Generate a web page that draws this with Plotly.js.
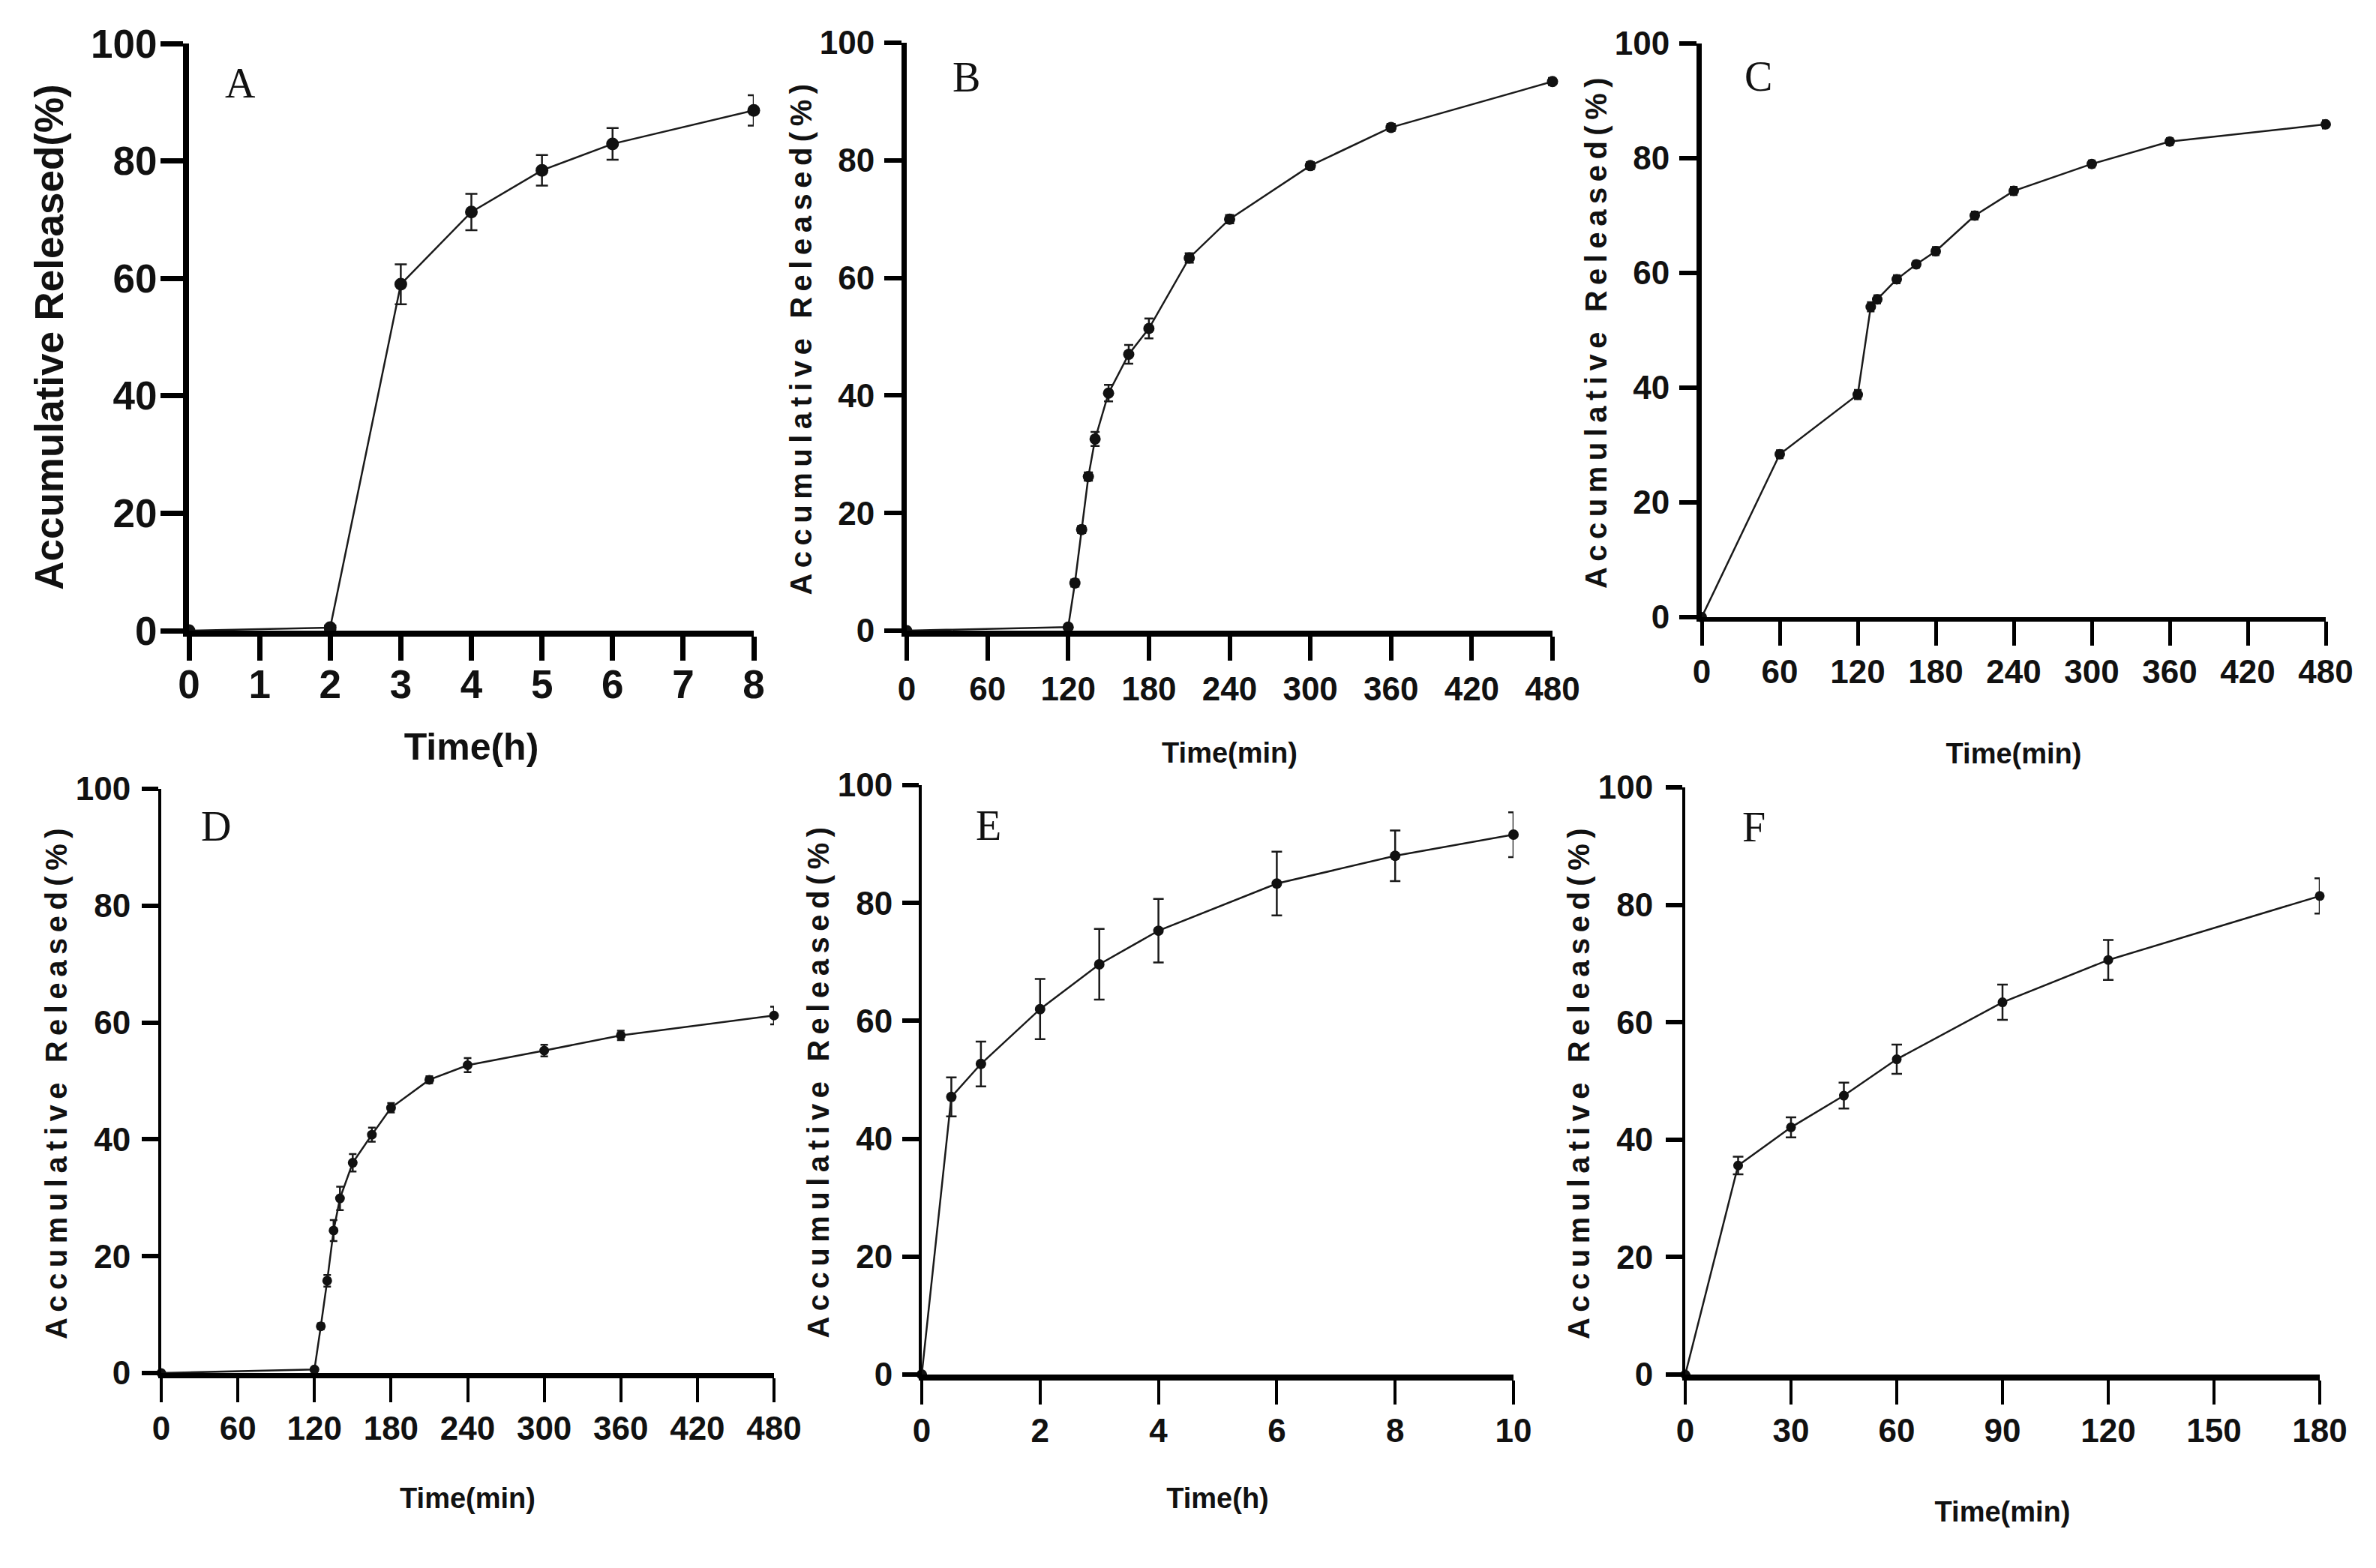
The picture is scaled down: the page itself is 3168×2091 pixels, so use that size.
<!DOCTYPE html>
<html>
<head>
<meta charset="utf-8">
<script src="https://cdn.plot.ly/plotly-3.0.1.min.js"></script>
<style>
  html, body { margin: 0; padding: 0; background: #fff; }
  #chart { width: 3168px; height: 2091px; }
  /* panels B-F use a letter-spaced y title */
  .g-y2title text, .g-y3title text, .g-y4title text,
  .g-y5title text, .g-y6title text { letter-spacing: 7.5px; }
</style>
</head>
<body>
<div id="chart"></div>
<script>
// ── Release data (mean, SD) ──
const timeA = [0, 2, 3, 4, 5, 6, 8];
const releaseA = [0, 0.5, 59.0, 71.3, 78.4, 82.9, 88.6];
const sdA = [0, 0.4, 3.4, 3.1, 2.6, 2.7, 2.6];

const timeB = [0, 120, 125, 130, 135, 140, 150, 165, 180, 210, 240, 300, 360, 480];
const releaseB = [0, 0.6, 8.1, 17.2, 26.2, 32.6, 40.4, 47.0, 51.4, 63.4, 70.0, 79.1, 85.6, 93.4];
const sdB = [0, 0.3, 0.6, 0.6, 0.7, 1.2, 1.4, 1.6, 1.7, 0.8, 0.7, 0.6, 0.6, 0.6];

const timeC = [0, 60, 120, 130, 135, 150, 165, 180, 210, 240, 300, 360, 480];
const releaseC = [0, 28.4, 38.8, 54.1, 55.4, 58.9, 61.5, 63.8, 70.0, 74.3, 79.0, 82.9, 85.9];
const sdC = [0, 0.7, 0.8, 0.8, 0.7, 0.7, 0.6, 0.7, 0.7, 0.7, 0.6, 0.6, 0.7];

const timeD = [0, 120, 125, 130, 135, 140, 150, 165, 180, 210, 240, 300, 360, 480];
const releaseD = [0, 0.6, 8.0, 15.8, 24.4, 29.9, 36.0, 40.8, 45.4, 50.2, 52.7, 55.2, 57.8, 61.2];
const sdD = [0, 0.3, 0.5, 1.0, 1.8, 2.0, 1.5, 1.2, 0.8, 0.6, 1.2, 1.0, 0.8, 1.5];

const timeE = [0, 0.5, 1, 2, 3, 4, 6, 8, 10];
const releaseE = [0, 47.1, 52.7, 62.0, 69.6, 75.3, 83.3, 88.0, 91.6];
const sdE = [0, 3.3, 3.8, 5.1, 6.0, 5.4, 5.4, 4.3, 3.8];

const timeF = [0, 15, 30, 45, 60, 90, 120, 180];
const releaseF = [0, 35.6, 42.1, 47.5, 53.7, 63.4, 70.6, 81.5];
const sdF = [0, 1.5, 1.7, 2.2, 2.5, 3.0, 3.4, 3.0];

const panelLetters = ["A", "B", "C", "D", "E", "F"];
const xMax = [8, 480, 480, 480, 10, 180];
const xStep = [1, 60, 60, 60, 2, 30];
const xTitles = ["Time(h)", "Time(min)", "Time(min)", "Time(min)", "Time(h)", "Time(min)"];
const yTitle = "Accumulative Released(%)";
const yTicks = [0, 20, 40, 60, 80, 100];

// ── Page geometry ─────────────────────────────
const W = 3168;
const H = 2091;

const ARIAL = "Liberation Sans, Arial, Helvetica, sans-serif";
const SERIF = "Liberation Serif, Times New Roman, serif";

// plot box in px: [left, top, right, bottom], plus per-panel styling
const PANELS = [
  { t: timeA, r: releaseA, sd: sdA, box: [252, 58, 1005, 841], heavy: true,
    xLine: 8, yLine: 8, xTickW: 7, yTickW: 7, yTickLen: 30, marker: 17, cap: 8,
    xStand: -14, yStand: -6, xTitleOff: 40, yTitleOff: 22, lab: [0.061, 0.975] },
  { t: timeB, r: releaseB, sd: sdB, box: [1209, 57, 2070, 841],
    xLine: 8, yLine: 7, xTickW: 6, yTickW: 6, yTickLen: 23, marker: 15, cap: 6,
    xStand: 0, yStand: 4, xTitleOff: 52, yTitleOff: 0, lab: [0.069, 0.983] },
  { t: timeC, r: releaseC, sd: sdC, box: [2269, 58, 3101, 823],
    xLine: 6, yLine: 7, xTickW: 5, yTickW: 6, yTickLen: 23, marker: 14, cap: 5,
    xStand: -3, yStand: 4, xTitleOff: 75, yTitleOff: 0, lab: [0.066, 0.985] },
  { t: timeD, r: releaseD, sd: sdD, box: [215, 1052, 1032, 1831],
    xLine: 7, yLine: 4, xTickW: 4, yTickW: 6, yTickLen: 22, marker: 13, cap: 5,
    xStand: -3, yStand: 6, xTitleOff: 59, yTitleOff: 0, lab: [0.062, 0.978] },
  { t: timeE, r: releaseE, sd: sdE, box: [1229, 1047, 2018, 1833],
    xLine: 8, yLine: 4, xTickW: 4, yTickW: 6, yTickLen: 22, marker: 14, cap: 7,
    xStand: -3, yStand: 4, xTitleOff: 57, yTitleOff: 0, lab: [0.089, 0.973] },
  { t: timeF, r: releaseF, sd: sdF, box: [2247, 1050, 3093, 1833],
    xLine: 8, yLine: 4, xTickW: 4, yTickW: 6, yTickLen: 22, marker: 13, cap: 7,
    xStand: -3, yStand: 8, xTitleOff: 75, yTitleOff: 0, lab: [0.088, 0.975] },
];

const traces = [];
const layout = {
  width: W,
  height: H,
  margin: { l: 0, r: 0, t: 0, b: 0 },
  paper_bgcolor: "#ffffff",
  plot_bgcolor: "#ffffff",
  showlegend: false,
  annotations: [],
};

PANELS.forEach((p, i) => {
  const n = i === 0 ? "" : String(i + 1);
  const [left, top, right, bottom] = p.box;
  const tickFont = { family: ARIAL, size: p.heavy ? 53 : 44, color: "#111", weight: 700 };
  const xTitleFont = { family: ARIAL, size: p.heavy ? 50 : 38, color: "#111", weight: 700 };
  const yTitleFont = { family: ARIAL, size: p.heavy ? 53 : 40, color: "#111", weight: 700 };

  traces.push({
    type: "scatter",
    mode: "lines+markers",
    x: p.t,
    y: p.r,
    xaxis: "x" + n,
    yaxis: "y" + n,
    cliponaxis: false,
    line: { color: "#1a1a1a", width: 2.5 },
    marker: { color: "#111", size: p.marker },
    error_y: {
      type: "data",
      array: p.sd,
      visible: true,
      color: "#1a1a1a",
      thickness: 2.5,
      width: p.cap,
    },
    hoverinfo: "x+y",
  });

  layout["xaxis" + n] = {
    domain: [left / W, right / W],
    anchor: "y" + n,
    range: [0, xMax[i]],
    tick0: 0,
    dtick: xStep[i],
    showline: true,
    linecolor: "#000",
    linewidth: p.xLine,
    ticks: "outside",
    ticklen: 32,
    tickwidth: p.xTickW,
    tickcolor: "#000",
    ticklabelstandoff: p.xStand,
    tickfont: tickFont,
    showgrid: false,
    zeroline: false,
    fixedrange: true,
    title: { text: xTitles[i], font: xTitleFont, standoff: p.xTitleOff },
  };

  layout["yaxis" + n] = {
    domain: [1 - bottom / H, 1 - top / H],
    anchor: "x" + n,
    range: [0, 100],
    tickvals: yTicks,
    showline: true,
    linecolor: "#000",
    linewidth: p.yLine,
    ticks: "outside",
    ticklen: p.yTickLen,
    tickwidth: p.yTickW,
    tickcolor: "#000",
    ticklabelstandoff: p.yStand,
    tickfont: tickFont,
    showgrid: false,
    zeroline: false,
    fixedrange: true,
    title: { text: yTitle, font: yTitleFont, standoff: p.yTitleOff },
  };

  layout.annotations.push({
    xref: "x" + n + " domain",
    yref: "y" + n + " domain",
    x: p.lab[0],
    y: p.lab[1],
    text: panelLetters[i],
    showarrow: false,
    font: { family: SERIF, size: 56, color: "#111" },
  });
});

Plotly.newPlot("chart", traces, layout, { staticPlot: true, displayModeBar: false });
</script>
</body>
</html>
